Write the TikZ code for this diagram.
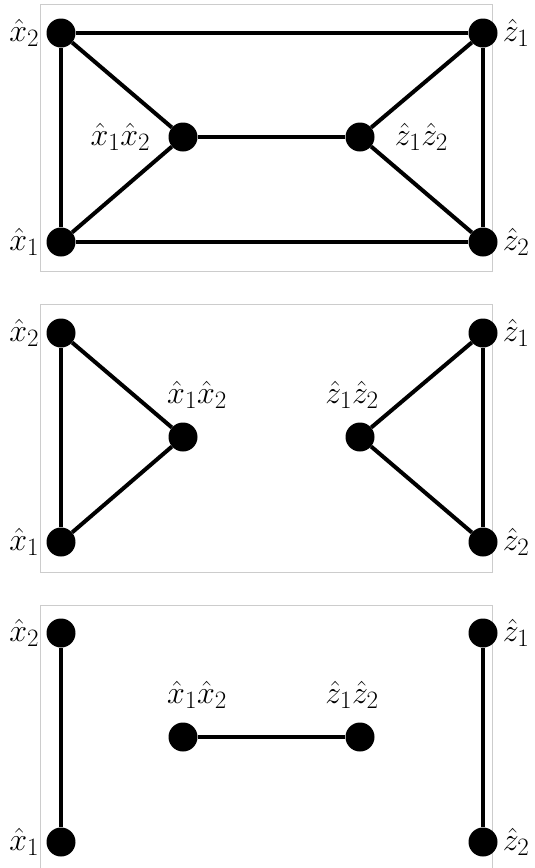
\RequirePackage{fix-cm}
\documentclass[tikz,border=0pt]{standalone}
\usepackage{amssymb}
\usetikzlibrary{positioning}
\DeclareMathSizes{32}{32}{25}{20}

\begin{document}
\begin{tikzpicture}[x=1pt,y=-1pt,font=\fontsize{32}{38}\selectfont]
\tikzstyle{vert}=[circle,fill=black,inner sep=0pt,minimum size=29pt]
\tikzstyle{edge}=[line width=4pt]
\tikzstyle{frame}=[draw=black!20,line width=1pt]
\tikzstyle{lbl}=[inner sep=0pt]
\useasboundingbox (0,0) rectangle (535,868);

% all edges
\draw[frame] (40,4) rectangle (492,271);
\node[vert,label={[lbl,label distance=7pt]left:$\hat{x}_2$}] at(61, 33) (xtwoa) {};
\node[vert,label={[lbl,label distance=7pt]left:$\hat{x}_1$}] at(61, 242) (xonea) {};
\node[vert,label={[lbl,label distance=18pt]left:$\hat{x}_1\hat{x}_2$}] at(183, 137) (xxa) {};
\node[vert,label={[lbl,label distance=20pt]right:$\hat{z}_1\hat{z}_2$}] at(360, 137) (zza) {};
\node[vert,label={[lbl,label distance=5pt]right:$\hat{z}_1$}] at(483, 33) (zonea) {};
\node[vert,label={[lbl,label distance=5pt]right:$\hat{z}_2$}] at(483, 242) (ztwoa) {};
\draw[edge] (xtwoa) -- (zonea);
\draw[edge] (xonea) -- (ztwoa);
\draw[edge] (xtwoa) -- (xonea);
\draw[edge] (zonea) -- (ztwoa);
\draw[edge] (xtwoa) -- (xxa);
\draw[edge] (xonea) -- (xxa);
\draw[edge] (xxa) -- (zza);
\draw[edge] (zza) -- (zonea);
\draw[edge] (zza) -- (ztwoa);

% two triangles
\begin{scope}[yshift=-300pt]
\draw[frame] (40,4) rectangle (492,272);
\node[vert,label={[lbl,label distance=7pt]left:$\hat{x}_2$}] at(61, 33) (xtwob) {};
\node[vert,label={[lbl,label distance=7pt]left:$\hat{x}_1$}] at(61, 242) (xoneb) {};
\node[vert,label={[lbl,label distance=14pt,xshift=14pt]above:$\hat{x}_1\hat{x}_2$}] at(183, 137) (xxb) {};
\node[vert,label={[lbl,label distance=14pt,xshift=-8pt]above:$\hat{z}_1\hat{z}_2$}] at(360, 137) (zzb) {};
\node[vert,label={[lbl,label distance=5pt]right:$\hat{z}_1$}] at(483, 33) (zoneb) {};
\node[vert,label={[lbl,label distance=5pt]right:$\hat{z}_2$}] at(483, 242) (ztwob) {};
\draw[edge] (xtwob) -- (xoneb);
\draw[edge] (xtwob) -- (xxb);
\draw[edge] (xoneb) -- (xxb);
\draw[edge] (zoneb) -- (ztwob);
\draw[edge] (zzb) -- (zoneb);
\draw[edge] (zzb) -- (ztwob);
\end{scope}

% three bars
\begin{scope}[yshift=-600pt]
\draw[frame] (40,5) rectangle (492,280);
\node[vert,label={[lbl,label distance=7pt]left:$\hat{x}_2$}] at(61, 33) (xtwoc) {};
\node[vert,label={[lbl,label distance=7pt]left:$\hat{x}_1$}] at(61, 242) (xonec) {};
\node[vert,label={[lbl,label distance=14pt,xshift=14pt]above:$\hat{x}_1\hat{x}_2$}] at(183, 137) (xxc) {};
\node[vert,label={[lbl,label distance=14pt,xshift=-8pt]above:$\hat{z}_1\hat{z}_2$}] at(360, 137) (zzc) {};
\node[vert,label={[lbl,label distance=5pt]right:$\hat{z}_1$}] at(483, 33) (zonec) {};
\node[vert,label={[lbl,label distance=5pt]right:$\hat{z}_2$}] at(483, 242) (ztwoc) {};
\draw[edge] (xtwoc) -- (xonec);
\draw[edge] (xxc) -- (zzc);
\draw[edge] (zonec) -- (ztwoc);
\end{scope}
\end{tikzpicture}
\end{document}
